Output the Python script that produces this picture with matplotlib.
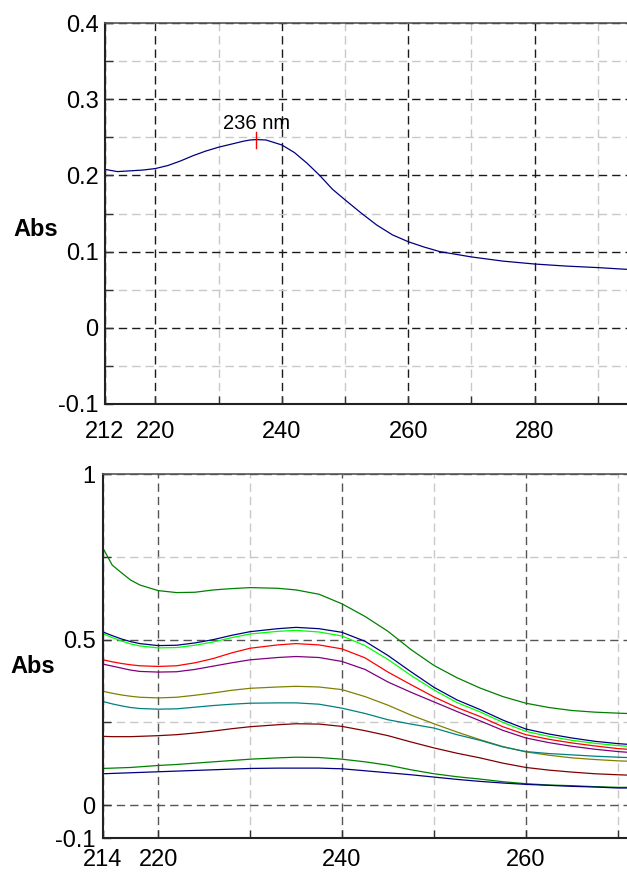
"""
UV absorbance spectra: single scan (top) and overlaid series (bottom)
"""

import matplotlib
matplotlib.use('Agg')
import matplotlib.pyplot as plt
from matplotlib.ticker import FixedLocator

plt.rcParams['font.family'] = ['Liberation Sans', 'DejaVu Sans']
plt.rcParams['lines.scale_dashes'] = False

# ---- top panel: single spectrum ----
top_wl = [212, 213, 214, 215, 216, 218, 220, 222, 224, 226, 228, 230, 232,
          234, 235, 236, 237.5, 240, 242, 244, 246, 248, 250, 252.5, 255,
          257.5, 260, 262.5, 265, 270, 275, 280, 285, 290, 295]
top_abs = [0.208, 0.2065, 0.205, 0.2055, 0.206, 0.207, 0.209, 0.213, 0.219,
           0.226, 0.232, 0.237, 0.241, 0.245, 0.2465, 0.247, 0.2465, 0.240,
           0.230, 0.216, 0.200, 0.182, 0.168, 0.151, 0.135, 0.122, 0.113,
           0.106, 0.100, 0.093, 0.0875, 0.0837, 0.081, 0.079, 0.0765]
peak_wl = 236
peak_label = '236 nm'
top_xticks = [212, 220, 240, 260, 280]
top_xminor = [230, 250, 270, 290]
top_yticks = [-0.1, 0, 0.1, 0.2, 0.3, 0.4]
top_yminor = [-0.05, 0.05, 0.15, 0.25, 0.35]
top_ylabels = ['-0.1', '0', '0.1', '0.2', '0.3', '0.4']

# ---- bottom panel: ten spectra ----
bot_wl = [214, 215, 216, 217, 218, 220, 222, 224, 226, 228, 230, 233, 235,
          237.5, 240, 242.5, 245, 247.5, 250, 252.5, 255, 257.5, 260, 262.5,
          265, 267.5, 270, 271]
s_green_hi = [0.776, 0.725, 0.702, 0.680, 0.665, 0.648, 0.642, 0.643, 0.650,
              0.654, 0.657, 0.655, 0.650, 0.637, 0.608, 0.570, 0.525, 0.470,
              0.422, 0.385, 0.354, 0.328, 0.308, 0.295, 0.286, 0.281, 0.278,
              0.277]
s_navy_hi = [0.523, 0.512, 0.502, 0.494, 0.488, 0.482, 0.483, 0.490, 0.500,
             0.513, 0.524, 0.533, 0.537, 0.533, 0.522, 0.495, 0.452, 0.403,
             0.356, 0.318, 0.289, 0.257, 0.230, 0.215, 0.203, 0.193, 0.186,
             0.184]
s_lime = [0.518, 0.506, 0.496, 0.487, 0.481, 0.475, 0.476, 0.483, 0.493,
          0.506, 0.517, 0.525, 0.528, 0.523, 0.511, 0.482, 0.440, 0.392,
          0.348, 0.310, 0.282, 0.250, 0.223, 0.208, 0.196, 0.187, 0.180,
          0.178]
s_red = [0.439, 0.433, 0.428, 0.424, 0.421, 0.419, 0.421, 0.430, 0.443,
         0.460, 0.474, 0.484, 0.488, 0.484, 0.472, 0.445, 0.402, 0.364,
         0.327, 0.295, 0.268, 0.237, 0.213, 0.199, 0.188, 0.179, 0.171,
         0.169]
s_purple = [0.426, 0.420, 0.414, 0.408, 0.404, 0.402, 0.403, 0.410, 0.420,
            0.430, 0.439, 0.446, 0.449, 0.446, 0.434, 0.410, 0.372, 0.341,
            0.312, 0.283, 0.255, 0.226, 0.203, 0.189, 0.178, 0.169, 0.162,
            0.160]
s_olive = [0.344, 0.338, 0.333, 0.329, 0.326, 0.324, 0.326, 0.332, 0.339,
           0.347, 0.353, 0.357, 0.359, 0.357, 0.349, 0.328, 0.302, 0.272,
           0.246, 0.221, 0.198, 0.177, 0.161, 0.151, 0.143, 0.138, 0.134,
           0.133]
s_teal = [0.313, 0.306, 0.300, 0.295, 0.292, 0.290, 0.291, 0.296, 0.301,
          0.305, 0.308, 0.309, 0.309, 0.305, 0.293, 0.277, 0.258, 0.245,
          0.233, 0.213, 0.196, 0.176, 0.162, 0.156, 0.152, 0.148, 0.145,
          0.144]
s_maroon = [0.208, 0.207, 0.207, 0.207, 0.208, 0.210, 0.213, 0.218, 0.224,
            0.231, 0.237, 0.243, 0.246, 0.245, 0.238, 0.225, 0.210, 0.191,
            0.173, 0.157, 0.143, 0.127, 0.114, 0.106, 0.100, 0.095, 0.092,
            0.091]
s_green_lo = [0.111, 0.112, 0.113, 0.114, 0.116, 0.120, 0.123, 0.127, 0.131,
              0.135, 0.139, 0.143, 0.145, 0.144, 0.139, 0.131, 0.121, 0.107,
              0.095, 0.086, 0.079, 0.071, 0.065, 0.061, 0.059, 0.056, 0.054,
              0.054]
s_navy_lo = [0.095, 0.096, 0.097, 0.098, 0.099, 0.101, 0.103, 0.105, 0.107,
             0.109, 0.111, 0.112, 0.112, 0.112, 0.110, 0.104, 0.098, 0.092,
             0.085, 0.078, 0.072, 0.067, 0.063, 0.060, 0.057, 0.055, 0.052,
             0.052]
bot_series = [s_green_hi, s_navy_hi, s_lime, s_red, s_purple, s_olive,
              s_teal, s_maroon, s_green_lo, s_navy_lo]
bot_colors = ['#008000', '#000080', '#00ff00', '#ff0000', '#800080',
              '#808000', '#008080', '#800000', '#008000', '#000080']
bot_xticks = [214, 220, 240, 260]
bot_xminor = [230, 250, 270]
bot_yticks = [-0.1, 0, 0.5, 1]
bot_yminor = [0.25, 0.75]
bot_ylabels = ['-0.1', '0', '0.5', '1']


def style_axes(ax, xticks, xminor, yticks, yminor, ylabels, major_color,
               fs, xpad, ypad):
    """Grid, ticks and spines in the instrument-software look"""
    ax.xaxis.set_major_locator(FixedLocator(xticks))
    ax.xaxis.set_minor_locator(FixedLocator(xminor))
    ax.yaxis.set_major_locator(FixedLocator(yticks))
    ax.yaxis.set_minor_locator(FixedLocator(yminor))
    ax.set_xticklabels([str(t) for t in xticks])
    ax.set_yticklabels(ylabels)

    ax.grid(True, which='major', color=major_color, linewidth=1.0,
            linestyle=(0, (6, 3.6)))
    ax.grid(True, which='minor', color='#c8c8c8', linewidth=1.0,
            linestyle=(0, (6, 3.6)))
    ax.set_axisbelow(True)

    ax.tick_params(which='both', direction='in', length=6, width=1.0,
                   color='#333333', top=False, right=False)
    ax.tick_params(axis='x', which='major', pad=xpad, labelsize=fs)
    ax.tick_params(axis='y', which='major', pad=ypad, labelsize=fs)

    ax.spines['right'].set_visible(False)
    ax.spines['top'].set_color('#555555')
    ax.spines['top'].set_linewidth(1.2)
    for side in ['left', 'bottom']:
        ax.spines[side].set_color('#222222')
        ax.spines[side].set_linewidth(1.5)


def main():
    fig = plt.figure(figsize=(6.27, 8.72), dpi=100)

    # top panel
    ax1 = fig.add_axes([0.167, 0.5367, 0.833, 0.4369])
    ax1.plot(top_wl, top_abs, color='#000080', linewidth=0.9)
    ax1.set_xlim(212, 294.6)
    ax1.set_ylim(-0.1, 0.4)
    style_axes(ax1, top_xticks, top_xminor, top_yticks, top_yminor,
               top_ylabels, '#1a1a1a', 17, 12.5, 4.5)

    # peak marker
    peak_val = top_abs[top_wl.index(peak_wl)]
    ax1.plot([peak_wl, peak_wl], [peak_val - 0.0105, peak_val + 0.0105],
             color='red', linewidth=1.0)
    ax1.text(peak_wl, 0.261, peak_label, ha='center', va='baseline',
             fontsize=14.5)

    # bottom panel
    ax2 = fig.add_axes([0.1643, 0.0386, 0.8357, 0.4178])
    for vals, col in zip(bot_series, bot_colors):
        ax2.plot(bot_wl, vals, color=col, linewidth=0.9)
    ax2.set_xlim(214, 271)
    ax2.set_ylim(-0.1, 1.0)
    style_axes(ax2, bot_xticks, bot_xminor, bot_yticks, bot_yminor,
               bot_ylabels, '#555555', 17, 8, 5.5)

    # y axis titles
    fig.text(13 / 627, 1 - 229 / 872, 'Abs', ha='left', va='center',
             fontsize=17, fontweight='bold')
    fig.text(10 / 627, 1 - 666 / 872, 'Abs', ha='left', va='center',
             fontsize=17, fontweight='bold')

    fig.savefig('out.png', dpi=100)
    plt.close(fig)


if __name__ == '__main__':
    main()
